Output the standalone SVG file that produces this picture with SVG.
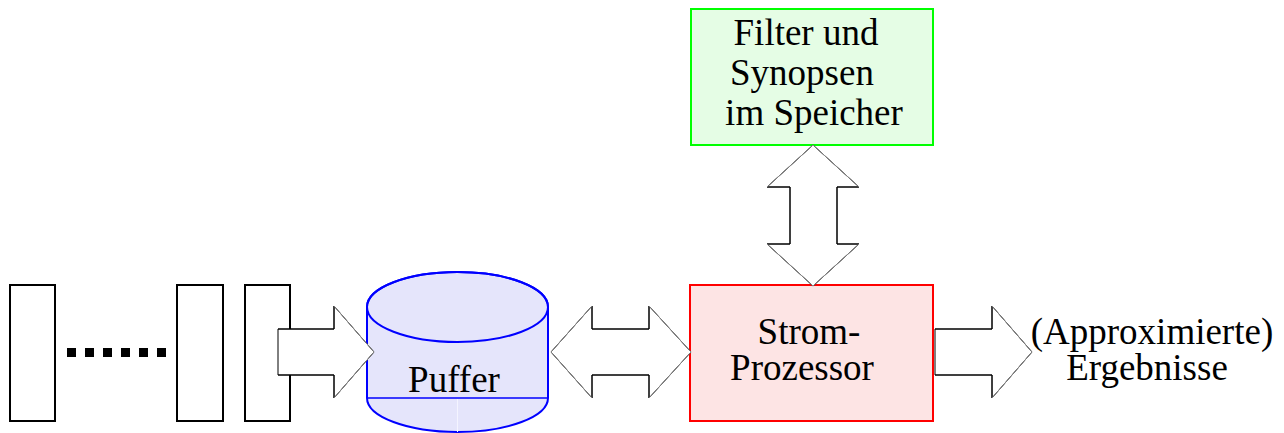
<svg xmlns="http://www.w3.org/2000/svg" width="1284" height="433" viewBox="0 0 1284 433">
<style>
text{font-family:"Liberation Serif","Times New Roman",serif;font-size:37px;fill:#000;text-anchor:middle}
.src{fill:#fff;stroke:#000;stroke-width:2}
.arrow{fill:#fff;stroke:#000;stroke-width:1}
.head{stroke:#888;stroke-width:1;fill:none}
</style>
<rect width="1284" height="433" fill="#fff"/>
<g id="sources">
<rect class="src" x="10" y="285" width="45" height="136"/>
<line x1="67" y1="352.5" x2="166" y2="352.5" stroke="#000" stroke-width="9" stroke-dasharray="9 9"/>
<rect class="src" x="177" y="285" width="46" height="136"/>
<rect class="src" x="245" y="285" width="45" height="136"/>
</g>
<g id="puffer">
<path d="M367,307 L367,398 A90.5,34 0 0 0 548,398 L548,307 A90.5,35 0 0 0 367,307 Z" fill="#e5e5fb" stroke="#00f" stroke-width="2"/>
<ellipse cx="457.5" cy="307" rx="90.5" ry="35" fill="none" stroke="#00f" stroke-width="2"/>
<line x1="367" y1="398" x2="548" y2="398" stroke="#00f" stroke-width="1.5"/>
<line x1="457.5" y1="399" x2="457.5" y2="432" stroke="#f4f4ff" stroke-width="1"/>
<text x="454" y="392">Puffer</text>
</g>
<g id="filter">
<rect x="691" y="9" width="242" height="136" fill="#e5fde5" stroke="#0f0" stroke-width="2"/>
<text x="806" y="45">Filter und</text>
<text x="802" y="85">Synopsen</text>
<text x="814" y="125">im Speicher</text>
</g>
<g id="prozessor">
<rect x="690" y="285" width="243" height="136" fill="#fde4e4" stroke="#f00" stroke-width="2"/>
<text x="809" y="344">Strom-</text>
<text x="802" y="380">Prozessor</text>
</g>
<g id="ergebnisse">
<text x="1152" y="344">(Approximierte)</text>
<text x="1147" y="380">Ergebnisse</text>
</g>
<g id="connectors">
<polygon class="arrow" points="278,329 334,329 334,306 374,352 334,398 334,375 278,375" stroke="none"/>
<polyline fill="none" stroke="#000" stroke-width="1" points="278,329 334,329 334,306"/>
<polyline fill="none" stroke="#000" stroke-width="1" points="278,375 334,375 334,398"/>
<polyline class="head" points="334,306 374,352 334,398"/>

<polygon class="arrow" points="551,352 592,306 592,329 649,329 649,306 691,352 649,398 649,375 592,375 592,398" stroke="none"/>
<polyline fill="none" stroke="#000" stroke-width="1" points="592,306 592,329 649,329 649,306"/>
<polyline fill="none" stroke="#000" stroke-width="1" points="592,398 592,375 649,375 649,398"/>
<polyline class="head" points="592,306 551,352 592,398"/>
<polyline class="head" points="649,306 691,352 649,398"/>

<polygon class="arrow" points="813,145 859,187 837,187 837,244 859,244 813,286 767,244 790,244 790,187 767,187" stroke="none"/>
<polyline fill="none" stroke="#000" stroke-width="1" points="767,187 790,187 790,244 767,244"/>
<polyline fill="none" stroke="#000" stroke-width="1" points="859,187 837,187 837,244 859,244"/>
<polyline class="head" points="767,187 813,145 859,187"/>
<polyline class="head" points="767,244 813,286 859,244"/>

<polygon class="arrow" points="935,329 992,329 992,306 1032,352 992,398 992,375 935,375" stroke="none"/>
<polyline fill="none" stroke="#000" stroke-width="1" points="935,329 992,329 992,306"/>
<polyline fill="none" stroke="#000" stroke-width="1" points="935,375 992,375 992,398"/>
<polyline class="head" points="992,306 1032,352 992,398"/>
</g>
</svg>
